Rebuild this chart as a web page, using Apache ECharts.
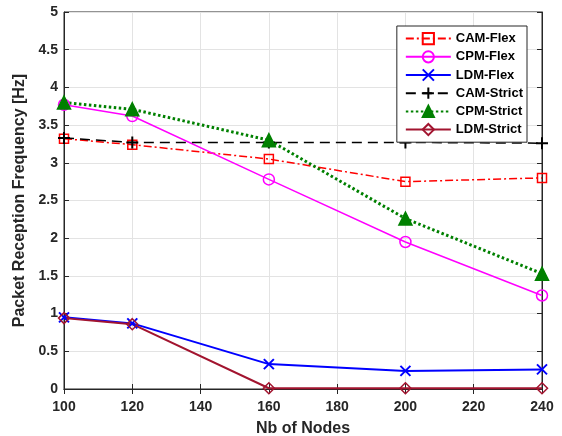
<!DOCTYPE html>
<html>
<head>
<meta charset="utf-8">
<script src="https://cdn.jsdelivr.net/npm/echarts@6/dist/echarts.min.js"></script>
<style>
	html, body { margin: 0; padding: 0; background: #fff; }
	#chart { width: 562px; height: 436px; }
</style>
</head>
<body>
<div id="chart"></div>
<script>
var nodes = [100, 120, 160, 200, 240]; // Nb of Nodes

var camFlex = [3.32, 3.24, 3.05, 2.75, 2.80];
var cpmFlex = [3.77, 3.62, 2.78, 1.95, 1.24];
var ldmFlex = [0.95, 0.87, 0.33, 0.24, 0.26];
var camStrict = [3.33, 3.27, 3.27, 3.27, 3.26];
var cpmStrict = [3.80, 3.71, 3.30, 2.26, 1.53];
var ldmStrict = [0.94, 0.86, 0.01, 0.01, 0.01];

var seriesNames = ['CAM-Flex', 'CPM-Flex', 'LDM-Flex', 'CAM-Strict', 'CPM-Strict', 'LDM-Strict'];

var font = 'Liberation Sans';
var axisColor = '#262626';

function pairs(vals) {
	return nodes.map(function(x, i) { return [x, vals[i]]; });
}

// 线条和标记样式
function makeSeries(name, vals, color, lineType, width, symbol, size, filled) {
	return {
		name: name,
		type: 'line',
		data: pairs(vals),
		symbol: symbol,
		symbolSize: size,
		showAllSymbol: true,
		lineStyle: { color: color, width: width, type: lineType },
		itemStyle: {
			color: filled ? color : 'rgba(255,255,255,0)',
			borderColor: color,
			borderWidth: 1.5
		},
		emphasis: { disabled: true },
		animation: false
	};
}

var myChart = echarts.init(document.getElementById('chart'));

var option = {
	backgroundColor: '#fff',
	textStyle: { fontFamily: font },
	grid: {
		left: 64, right: 20, top: 12, bottom: 47,
		outerBoundsMode: 'none',
		show: true,
		borderColor: axisColor,
		borderWidth: 1
	},
	legend: {
		orient: 'vertical',
		right: 35,
		top: 26,
		itemWidth: 45,
		itemHeight: 14,
		itemGap: 5,
		padding: [6, 4, 6, 8],
		backgroundColor: '#fff',
		borderColor: axisColor,
		borderWidth: 1,
		data: seriesNames,
		textStyle: { fontFamily: font, fontWeight: 'bold', fontSize: 13, color: '#000' }
	},
	xAxis: [{
		type: 'value',
		min: 100, max: 240, interval: 20,
		name: 'Nb of Nodes',
		nameLocation: 'middle',
		nameGap: 32,
		nameTextStyle: { fontFamily: font, fontWeight: 'bold', fontSize: 16, color: axisColor },
		axisLine: { show: true, onZero: false, lineStyle: { color: axisColor } },
		axisTick: { show: true, inside: true, length: 5, lineStyle: { color: axisColor } },
		axisLabel: { fontFamily: font, fontWeight: 'bold', fontSize: 14, color: axisColor, margin: 11 },
		splitLine: { show: true, lineStyle: { color: '#e3e3e3' } }
	}, {
		type: 'value', position: 'top',
		min: 100, max: 240, interval: 20,
		axisLine: { show: true, lineStyle: { color: axisColor } },
		axisTick: { show: true, inside: true, length: 5, lineStyle: { color: axisColor } },
		axisLabel: { show: false },
		splitLine: { show: false }
	}],
	yAxis: [{
		type: 'value',
		min: 0, max: 5, interval: 0.5,
		name: 'Packet Reception Frequency [Hz]',
		nameLocation: 'middle',
		nameGap: 32,
		nameTextStyle: { fontFamily: font, fontWeight: 'bold', fontSize: 16, color: axisColor },
		axisLine: { show: true, onZero: false, lineStyle: { color: axisColor } },
		axisTick: { show: true, inside: true, length: 5, lineStyle: { color: axisColor } },
		axisLabel: { fontFamily: font, fontWeight: 'bold', fontSize: 14, color: axisColor, margin: 6 },
		splitLine: { show: true, lineStyle: { color: '#e3e3e3' } }
	}, {
		type: 'value', position: 'right',
		min: 0, max: 5, interval: 0.5,
		axisLine: { show: true, lineStyle: { color: axisColor } },
		axisTick: { show: true, inside: true, length: 5, lineStyle: { color: axisColor } },
		axisLabel: { show: false },
		splitLine: { show: false }
	}],
	series: [
		makeSeries('CAM-Flex', camFlex, '#ff0000', [8, 3, 2, 3], 1.5, 'rect', 9, false),
		makeSeries('CPM-Flex', cpmFlex, '#ff00ff', 'solid', 1.5, 'circle', 11, false),
		makeSeries('LDM-Flex', ldmFlex, '#0000ff', 'solid', 2, 'path://M0,0L10,10M10,0L0,10', 10, false),
		makeSeries('CAM-Strict', camStrict, '#000000', [10, 6], 1.5, 'path://M5,0L5,10M0,5L10,5', 12, false),
		makeSeries('CPM-Strict', cpmStrict, '#008000', [2.5, 2.5], 3, 'triangle', 13, true),
		makeSeries('LDM-Strict', ldmStrict, '#a2142f', 'solid', 2, 'diamond', 11, false)
	]
};

// 标记描边加粗
option.series[2].itemStyle.borderWidth = 2;
option.series[3].itemStyle.borderWidth = 2;

myChart.setOption(option, true);
</script>
</body>
</html>
